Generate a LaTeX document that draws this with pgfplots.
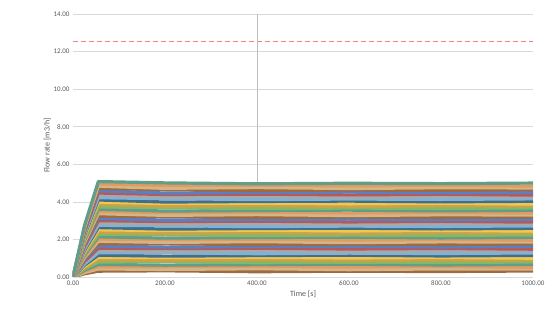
\documentclass[border=0pt]{standalone}
\usepackage{fontspec}
\setmainfont{Carlito}
\usepackage{pgfplots}
\pgfplotsset{compat=1.18}
\usetikzlibrary{calc}
\definecolor{e1}{HTML}{9E6A3E}
\definecolor{e2}{HTML}{C9A24A}
\definecolor{e3}{HTML}{5E9E8A}
\definecolor{e4}{HTML}{7FB2D9}
\definecolor{e5}{HTML}{E39A5E}
\definecolor{e6}{HTML}{A8A8A8}
\definecolor{e7}{HTML}{F2C84B}
\definecolor{e8}{HTML}{5A7FC4}
\definecolor{e9}{HTML}{86B765}
\definecolor{e10}{HTML}{3F6F8E}
\definecolor{e11}{HTML}{D3B58A}
\definecolor{e12}{HTML}{B55A5A}
\definecolor{gridc}{HTML}{D9D9D9}
\definecolor{txt}{HTML}{595959}
\definecolor{reddash}{HTML}{F08080}
\begin{document}
\begin{tikzpicture}
\begin{axis}[
  scale only axis, width=460pt, height=263pt,
  xmin=0, xmax=1000, ymin=0, ymax=14,
  xtick={0,200,...,1000}, ytick={0,2,...,14},
  xticklabel style={/pgf/number format/.cd, fixed, fixed zerofill, precision=2, 1000 sep={}},
  yticklabel style={/pgf/number format/.cd, fixed, fixed zerofill, precision=2},
  /pgf/number format/assume math mode=true,
  ymajorgrids, grid style={gridc, line width=0.6pt},
  axis line style={draw=none}, major tick length=0pt,
  tick label style={font=\fontsize{7}{9}\selectfont, text=txt},
  label style={font=\fontsize{8}{10}\selectfont, text=txt},
  xlabel={Time [s]}, ylabel={Flow rate [m3/h]},
  xlabel style={yshift=2pt}, ylabel style={yshift=-4pt},
  cycle list={{e1},{e11},{e5},{e3},{e9},{e2},{e7},{e10},{e4},{e6},{e12},{e8}},
]
\addplot[reddash, dash pattern=on 5pt off 3pt, line width=1.3pt, no marks] coordinates {(0,12.55)(1000,12.55)};
\addplot[gray!50, line width=0.5pt, no marks] coordinates {(400,5.0)(400,14)};
\pgfplotsset{every axis plot/.append style={line width=3.2pt, no marks, line join=round}}
\pgfplotsset{cycle list shift=-2}
\addplot coordinates {(0,0)(25,0.17)(55,0.31)(200,0.33)(400,0.28)(600,0.31)(800,0.29)(1000,0.32)};
\addplot coordinates {(0,0)(25,0.23)(55,0.43)(200,0.40)(400,0.44)(600,0.39)(800,0.43)(1000,0.42)};
\addplot coordinates {(0,0)(25,0.30)(55,0.55)(200,0.55)(400,0.57)(600,0.53)(800,0.56)(1000,0.52)};
\addplot coordinates {(0,0)(25,0.36)(55,0.67)(200,0.63)(400,0.66)(600,0.68)(800,0.64)(1000,0.67)};
\addplot coordinates {(0,0)(25,0.43)(55,0.80)(200,0.81)(400,0.76)(600,0.79)(800,0.77)(1000,0.80)};
\addplot coordinates {(0,0)(25,0.50)(55,0.92)(200,0.88)(400,0.92)(600,0.87)(800,0.91)(1000,0.90)};
\addplot coordinates {(0,0)(25,0.56)(55,1.04)(200,1.03)(400,1.05)(600,1.01)(800,1.04)(1000,1.00)};
\addplot coordinates {(0,0)(25,0.63)(55,1.16)(200,1.11)(400,1.14)(600,1.16)(800,1.12)(1000,1.15)};
\addplot coordinates {(0,0)(25,0.69)(55,1.29)(200,1.29)(400,1.24)(600,1.27)(800,1.25)(1000,1.28)};
\addplot coordinates {(0,0)(25,0.76)(55,1.41)(200,1.36)(400,1.40)(600,1.35)(800,1.39)(1000,1.38)};
\addplot coordinates {(0,0)(25,0.83)(55,1.53)(200,1.51)(400,1.53)(600,1.49)(800,1.52)(1000,1.48)};
\addplot coordinates {(0,0)(25,0.89)(55,1.65)(200,1.59)(400,1.62)(600,1.64)(800,1.60)(1000,1.63)};
\addplot coordinates {(0,0)(25,0.96)(55,1.77)(200,1.77)(400,1.72)(600,1.75)(800,1.73)(1000,1.76)};
\addplot coordinates {(0,0)(25,1.02)(55,1.90)(200,1.84)(400,1.88)(600,1.83)(800,1.87)(1000,1.86)};
\addplot coordinates {(0,0)(25,1.09)(55,2.02)(200,1.99)(400,2.01)(600,1.97)(800,2.00)(1000,1.96)};
\addplot coordinates {(0,0)(25,1.16)(55,2.14)(200,2.07)(400,2.10)(600,2.12)(800,2.08)(1000,2.11)};
\addplot coordinates {(0,0)(25,1.22)(55,2.26)(200,2.25)(400,2.20)(600,2.23)(800,2.21)(1000,2.24)};
\addplot coordinates {(0,0)(25,1.29)(55,2.39)(200,2.32)(400,2.36)(600,2.31)(800,2.35)(1000,2.34)};
\addplot coordinates {(0,0)(25,1.35)(55,2.51)(200,2.47)(400,2.49)(600,2.45)(800,2.48)(1000,2.44)};
\addplot coordinates {(0,0)(25,1.42)(55,2.63)(200,2.55)(400,2.58)(600,2.60)(800,2.56)(1000,2.59)};
\addplot coordinates {(0,0)(25,1.49)(55,2.75)(200,2.73)(400,2.68)(600,2.71)(800,2.69)(1000,2.72)};
\addplot coordinates {(0,0)(25,1.55)(55,2.88)(200,2.80)(400,2.84)(600,2.79)(800,2.83)(1000,2.82)};
\addplot coordinates {(0,0)(25,1.62)(55,3.00)(200,2.95)(400,2.97)(600,2.93)(800,2.96)(1000,2.92)};
\addplot coordinates {(0,0)(25,1.68)(55,3.12)(200,3.03)(400,3.06)(600,3.08)(800,3.04)(1000,3.07)};
\addplot coordinates {(0,0)(25,1.75)(55,3.24)(200,3.21)(400,3.16)(600,3.19)(800,3.17)(1000,3.20)};
\addplot coordinates {(0,0)(25,1.82)(55,3.37)(200,3.28)(400,3.32)(600,3.27)(800,3.31)(1000,3.30)};
\addplot coordinates {(0,0)(25,1.88)(55,3.49)(200,3.43)(400,3.45)(600,3.41)(800,3.44)(1000,3.40)};
\addplot coordinates {(0,0)(25,1.95)(55,3.61)(200,3.51)(400,3.54)(600,3.56)(800,3.52)(1000,3.55)};
\addplot coordinates {(0,0)(25,2.01)(55,3.73)(200,3.69)(400,3.64)(600,3.67)(800,3.65)(1000,3.68)};
\addplot coordinates {(0,0)(25,2.08)(55,3.86)(200,3.76)(400,3.80)(600,3.75)(800,3.79)(1000,3.78)};
\addplot coordinates {(0,0)(25,2.15)(55,3.98)(200,3.91)(400,3.93)(600,3.89)(800,3.92)(1000,3.88)};
\addplot coordinates {(0,0)(25,2.21)(55,4.10)(200,3.99)(400,4.02)(600,4.04)(800,4.00)(1000,4.03)};
\addplot coordinates {(0,0)(25,2.28)(55,4.22)(200,4.17)(400,4.12)(600,4.15)(800,4.13)(1000,4.16)};
\addplot coordinates {(0,0)(25,2.34)(55,4.35)(200,4.24)(400,4.28)(600,4.23)(800,4.27)(1000,4.26)};
\addplot coordinates {(0,0)(25,2.41)(55,4.47)(200,4.39)(400,4.41)(600,4.37)(800,4.40)(1000,4.36)};
\addplot coordinates {(0,0)(25,2.48)(55,4.59)(200,4.47)(400,4.50)(600,4.52)(800,4.48)(1000,4.51)};
\addplot coordinates {(0,0)(25,2.54)(55,4.71)(200,4.65)(400,4.60)(600,4.63)(800,4.61)(1000,4.64)};
\addplot coordinates {(0,0)(25,2.61)(55,4.83)(200,4.72)(400,4.76)(600,4.71)(800,4.75)(1000,4.74)};
\addplot coordinates {(0,0)(25,2.67)(55,4.96)(200,4.87)(400,4.89)(600,4.85)(800,4.88)(1000,4.84)};
\addplot coordinates {(0,0)(25,2.74)(55,5.08)(200,5.01)(400,4.96)(600,4.99)(800,4.97)(1000,5.00)};
\end{axis}
\path ($(current axis.south west)+(-73pt,-52pt)$) rectangle ($(current axis.north east)+(22pt,14pt)$);
\end{tikzpicture}
\end{document}
